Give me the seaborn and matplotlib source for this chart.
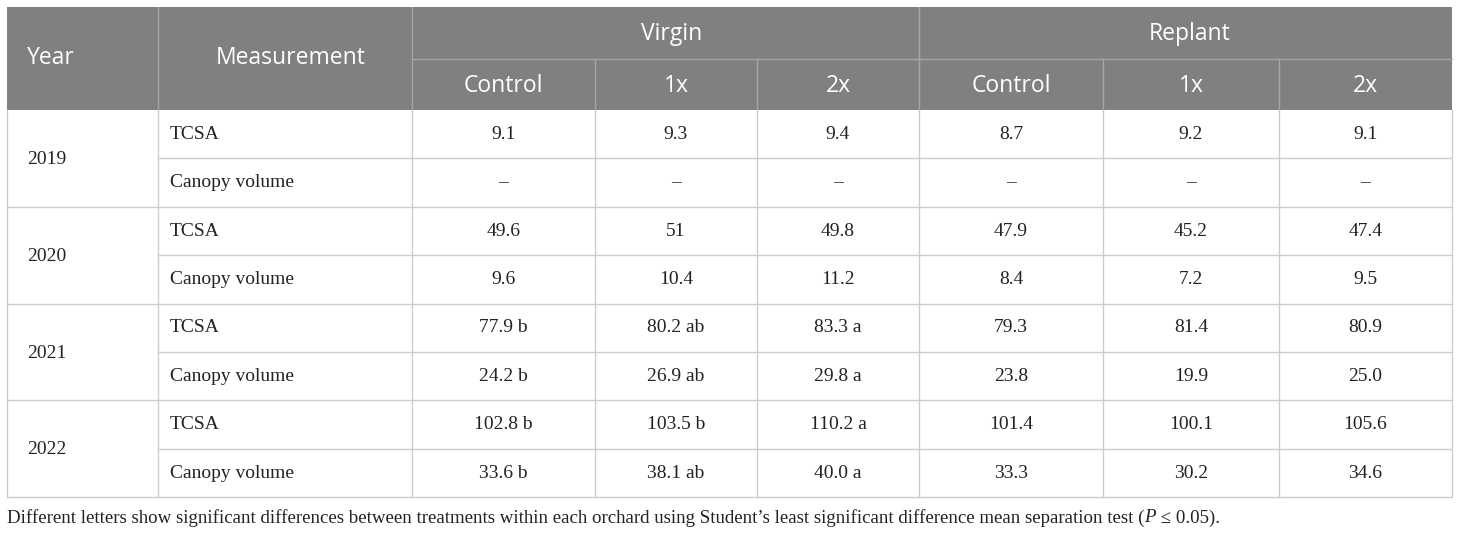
import matplotlib
matplotlib.use("Agg")
import matplotlib.pyplot as plt
import seaborn as sns
from matplotlib.patches import Rectangle

sns.set_theme(style="white")
plt.rcParams['font.family'] = ['DejaVu Sans']

# ---- data ----
years = ["2019", "2020", "2021", "2022"]
measurements = ["TCSA", "Canopy volume"]
orchards = ["Virgin", "Replant"]
treatments = ["Control", "1x", "2x"]

virgin_tcsa = ["9.1", "9.3", "9.4", "49.6", "51", "49.8", "77.9 b", "80.2 ab", "83.3 a", "102.8 b", "103.5 b", "110.2 a"]
virgin_canopy = ["–", "–", "–", "9.6", "10.4", "11.2", "24.2 b", "26.9 ab", "29.8 a", "33.6 b", "38.1 ab", "40.0 a"]
replant_tcsa = ["8.7", "9.2", "9.1", "47.9", "45.2", "47.4", "79.3", "81.4", "80.9", "101.4", "100.1", "105.6"]
replant_canopy = ["–", "–", "–", "8.4", "7.2", "9.5", "23.8", "19.9", "25.0", "33.3", "30.2", "34.6"]

caption = ("Different letters show significant differences between treatments within each orchard "
           "using Student\u2019s least significant difference mean separation test (")

# ---- layout ----
W, H = 1460, 534
fig = plt.figure(figsize=(W / 100, H / 100), dpi=100)
ax = fig.add_axes([0, 0, 1, 1])
ax.set_xlim(0, W)
ax.set_ylim(H, 0)
ax.axis("off")

xcols = [7, 158, 412, 595, 757, 919, 1103, 1279, 1452]
top, hmid, hbot = 7, 59, 110
row_h = 48.4
nrows = len(years) * len(measurements)
rows_y = [hbot + i * row_h for i in range(nrows + 1)]
bottom = rows_y[-1]

header_bg = "#808080"
grid = "#cccccc"
hline = "#a6a6a6"
sans = ["Open Sans", "DejaVu Sans"]
serif = ["Liberation Serif", "DejaVu Serif"]
hfs = 16.5
bfs = 14.0
cfs = 13.6
txt = "#222222"

ax.add_patch(Rectangle((xcols[0], top), xcols[-1] - xcols[0], hbot - top,
                       facecolor=header_bg, edgecolor="none", zorder=1))

# header lines
ax.plot([xcols[2], xcols[-1]], [hmid, hmid], color=hline, lw=1, zorder=2)
for x in (xcols[1], xcols[2], xcols[5]):
    ax.plot([x, x], [top, hbot], color=hline, lw=1, zorder=2)
for x in (xcols[3], xcols[4], xcols[6], xcols[7]):
    ax.plot([x, x], [hmid, hbot], color=hline, lw=1, zorder=2)

# header text
ax.text(27, (top + hbot) / 2, "Year", color="white", fontsize=hfs, family=sans,
        ha="left", va="center")
ax.text(291, (top + hbot) / 2, "Measurement", color="white", fontsize=hfs, family=sans,
        ha="center", va="center")
ax.text((xcols[2] + xcols[5]) / 2 + 6, (top + hmid) / 2 + 1, orchards[0], color="white",
        fontsize=hfs, family=sans, ha="center", va="center")
ax.text((xcols[5] + xcols[8]) / 2 + 4, (top + hmid) / 2 + 1, orchards[1], color="white",
        fontsize=hfs, family=sans, ha="center", va="center")
for k in range(6):
    cx = (xcols[2 + k] + xcols[3 + k]) / 2
    ax.text(cx, (hmid + hbot) / 2 + 2, treatments[k % 3], color="white", fontsize=hfs,
            family=sans, ha="center", va="center")

# body grid
for x in xcols:
    ax.plot([x, x], [hbot, bottom], color=grid, lw=1, zorder=2)
for i, y in enumerate(rows_y[1:], start=1):
    x0 = xcols[0] if i % 2 == 0 else xcols[1]
    ax.plot([x0, xcols[-1]], [y, y], color=grid, lw=1, zorder=2)

# body text
for yi, yr in enumerate(years):
    ymid = rows_y[2 * yi + 1]
    ax.text(27, ymid + 1, yr, fontsize=bfs, family=serif, color=txt,
            ha="left", va="center")
    for mi, meas in enumerate(measurements):
        r = 2 * yi + mi
        cy = (rows_y[r] + rows_y[r + 1]) / 2
        ax.text(170, cy, meas, fontsize=bfs, family=serif, color=txt,
                ha="left", va="center")
        vals_v = virgin_tcsa if mi == 0 else virgin_canopy
        vals_r = replant_tcsa if mi == 0 else replant_canopy
        row_vals = vals_v[3 * yi:3 * yi + 3] + vals_r[3 * yi:3 * yi + 3]
        for k, v in enumerate(row_vals):
            cx = (xcols[2 + k] + xcols[3 + k]) / 2
            ax.text(cx, cy, v, fontsize=bfs, family=serif, color=txt,
                    ha="center", va="center")

# caption
cy_cap = 518
t = ax.text(7, cy_cap, caption, fontsize=cfs, family=serif, color=txt,
            ha="left", va="center")
fig.canvas.draw()
bb = t.get_window_extent()
inv = ax.transData.inverted()
xend = inv.transform((bb.x1, bb.y0))[0]
t2 = ax.text(xend, cy_cap, "P", fontsize=cfs, family=serif, style="italic",
             color=txt, ha="left", va="center")
bb2 = t2.get_window_extent()
xend2 = inv.transform((bb2.x1, bb2.y0))[0]
ax.text(xend2, cy_cap, " \u2264 0.05).", fontsize=cfs, family=serif, color=txt,
        ha="left", va="center")

fig.savefig("out.png", dpi=100)
